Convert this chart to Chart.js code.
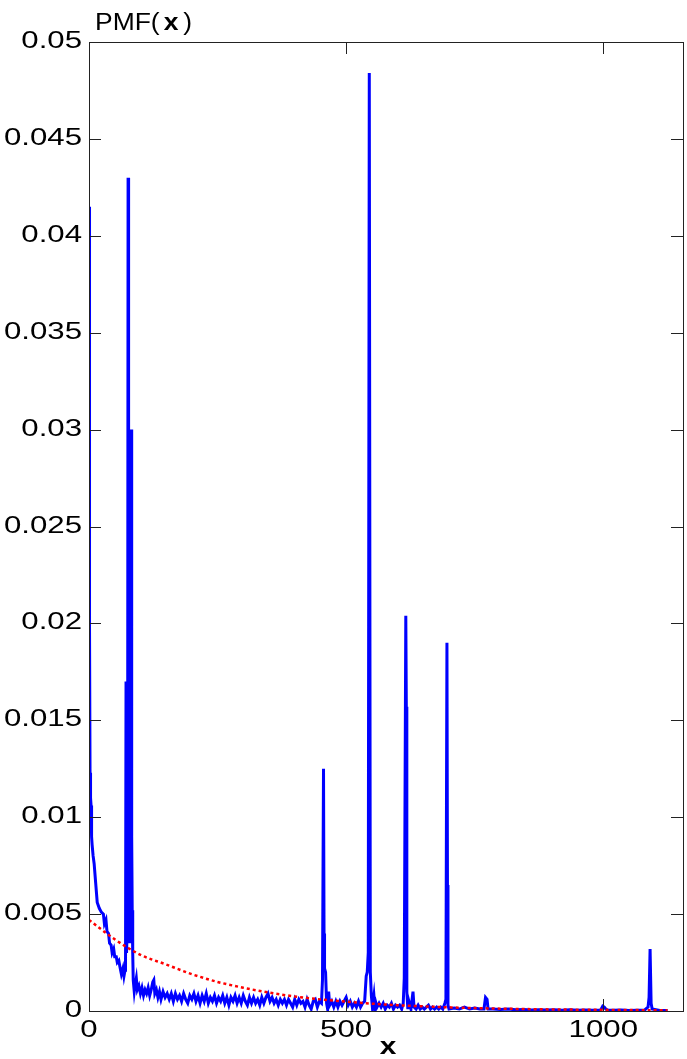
<!DOCTYPE html>
<html>
<head>
<meta charset="utf-8">
<script src="https://cdn.jsdelivr.net/npm/chart.js@4.4.1/dist/chart.umd.min.js"></script>
<style>
  body { margin: 0; background: #fff; }
  canvas { display: block; }
</style>
</head>
<body>
<canvas id="pmf-chart" width="687" height="1059"></canvas>
<script>
// tick labels
var xTickVals = [0, 500, 1000];
var yTickVals = [0, 0.005, 0.01, 0.015, 0.02, 0.025, 0.03, 0.035, 0.04, 0.045, 0.05];

var pmfX = [0, 1, 2, 3, 4, 5, 6, 8, 10, 13, 16, 20, 24, 28, 30, 33, 35, 38, 40, 43, 45, 48, 50, 53, 55, 58, 60, 63, 66, 68, 70,
  71, 72, 73, 74, 75, 76, 77, 78, 79, 80, 81, 82, 83, 84, 85, 86, 88, 90, 92, 94, 97, 100, 103, 106, 109, 112, 115, 118, 121, 124, 126, 128, 131, 134, 137,
  140, 144, 148, 152, 156, 160, 164, 168, 172, 176, 180, 184, 188, 192, 196, 200, 204, 208, 212, 216, 220, 224, 228, 232, 236, 240,
  244, 248, 252, 256, 260, 264, 268, 272, 276, 280, 284, 288, 292, 296, 300, 304, 308, 312, 316, 320, 324, 328, 332, 336, 340, 344,
  348, 352, 356, 360, 364, 368, 372, 376, 380, 384, 388, 392, 396, 400, 404, 408, 412, 416, 420, 424, 428, 432, 436, 440, 444, 448,
  452, 454, 456, 457, 458, 460, 462, 464, 466, 468, 472, 476, 480, 484, 488, 492, 496, 500, 504, 508, 512, 516, 520, 524, 528, 532, 536,
  539, 541, 543, 545, 547, 549, 551, 554, 556, 558, 560, 564, 568, 572, 576, 580, 584, 588, 592, 596, 600, 604, 608, 611, 613, 616, 617, 618,
  620, 622, 626, 630, 632, 636, 640, 644, 648, 652, 656, 660, 664, 668, 672, 676, 680, 684, 688, 692, 694, 696, 697, 698, 700,
  710, 720, 730, 740, 750, 760, 768, 771, 774, 776, 785, 800, 815, 830, 845, 860, 875, 890, 905, 920, 935, 950, 965, 980, 995,
  999, 1002, 1005, 1008, 1020, 1035, 1050, 1065, 1080, 1087, 1089, 1091, 1093, 1095, 1110, 1125];
var pmfY = [0.0415, 0.0198, 0.0123, 0.0110, 0.0106, 0.0090, 0.0086, 0.0080, 0.0076, 0.0066, 0.0056, 0.0053, 0.0051, 0.0050, 0.0045, 0.0047, 0.0041, 0.0040, 0.0035, 0.0034, 0.0030, 0.0032, 0.0028, 0.0028, 0.0025, 0.0026, 0.0023, 0.0019, 0.0022, 0.0018, 0.0021,
  0.0023, 0.0170, 0.0030, 0.0040, 0.0060, 0.0430, 0.0080, 0.0050, 0.0035, 0.0045, 0.0060, 0.0300, 0.0090, 0.0052, 0.0030, 0.0016, 0.0010, 0.0014, 0.0017, 0.0011, 0.0013, 0.0009, 0.0012, 0.0008, 0.0011, 0.0009, 0.0012, 0.0008, 0.0011, 0.0015, 0.0016, 0.0009, 0.0011, 0.0007, 0.0010,
  0.0006, 0.0010, 0.0007, 0.0009, 0.0006, 0.0009, 0.0005, 0.0009, 0.0006, 0.0008, 0.0005, 0.0009, 0.0006, 0.0004, 0.0008, 0.0006, 0.0009, 0.0005, 0.0008, 0.0004, 0.0008, 0.0005, 0.0009, 0.0004, 0.0007, 0.0005,
  0.0008, 0.0004, 0.0007, 0.0005, 0.0008, 0.0004, 0.0007, 0.0003, 0.0007, 0.0005, 0.0008, 0.0004, 0.0007, 0.0004, 0.0008, 0.0005, 0.0003, 0.0007, 0.0004, 0.0007, 0.0004, 0.0006, 0.0003, 0.0007, 0.0004, 0.0007,
  0.0009, 0.0005, 0.0007, 0.0004, 0.0006, 0.0003, 0.0006, 0.0004, 0.0006, 0.0003, 0.0006, 0.0004, 0.0002, 0.0006, 0.0003, 0.0006, 0.0004, 0.0005, 0.0002, 0.0006, 0.0003, 0.0001, 0.0005, 0.0006, 0.0002, 0.0005,
  0.0004, 0.0016, 0.0125, 0.0040, 0.0022, 0.0020, 0.0004, 0.0001, 0.0010, 0.0003, 0.0005, 0.0002, 0.0005, 0.0002, 0.0005, 0.0003, 0.0005, 0.0007, 0.0003, 0.0005, 0.0002, 0.0004, 0.0002, 0.0005, 0.0002, 0.0004, 0.0005,
  0.0018, 0.0020, 0.0030, 0.0484, 0.0020, 0.0008, 0.0002, 0.0008, 0.0001, 0.0004, 0.0002, 0.0004, 0.0002, 0.0004, 0.0001, 0.0003, 0.0002, 0.0004, 0.0001, 0.0003, 0.0002, 0.0003, 0.0001, 0.0004, 0.0017, 0.0204, 0.0157, 0.0010,
  0.0001, 0.0005, 0.0001, 0.0010, 0.0002, 0.0001, 0.0003, 0.0001, 0.0002, 0.0001, 0.0002, 0.0003, 0.0001, 0.0002, 0.0001, 0.0002, 0.0001, 0.0002, 0.0001, 0.0004, 0.0006, 0.0190, 0.0065, 0.0003, 0.0001,
  0.00015, 0.0001, 0.0002, 0.0001, 0.00015, 0.0001, 0.0001, 0.0007, 0.0006, 0.0001, 0.0001, 0.00008, 0.0001, 0.00006, 0.00008, 0.00005, 0.00007, 0.00005, 0.00006, 0.00004, 0.00006, 0.00004, 0.00005, 0.00004, 0.00005,
  0.00025, 0.0002, 0.0001, 0.00005, 0.00004, 0.00005, 0.00003, 0.00004, 0.00004, 0.0002, 0.0007, 0.0032, 0.0004, 0.0001, 0.00003, 0.00003];

// fitted curve (red dotted)
var fitX = [0, 50, 100, 150, 200, 250, 300, 350, 400, 450, 500, 550, 600, 650, 700, 750, 800, 850, 900, 950, 1000, 1050, 1100, 1125];
var fitY = [0.0047, 0.0037, 0.0029, 0.0024, 0.0019, 0.0015, 0.0012, 0.00095, 0.00075, 0.0006, 0.00048, 0.00038, 0.0003, 0.00024, 0.00019, 0.00015, 0.00012, 0.0001, 0.00008, 0.00007, 0.00006, 0.00005, 0.00004, 0.00004];

var FONT = '"Liberation Sans", Arial, sans-serif';
var STRETCH = 1.3; // the figure text is stretched sideways

function toPoints(xs, ys) {
  var pts = [];
  for (var i = 0; i < xs.length; i++) pts.push({x: xs[i], y: ys[i]});
  return pts;
}

function wideText(ctx, txt, x, y, align, k) {
  ctx.save();
  ctx.translate(x, y);
  ctx.scale(k || STRETCH, 1);
  ctx.textAlign = align;
  ctx.fillText(txt, 0, 0);
  ctx.restore();
}

// matlab-ish box with inward ticks on all four sides
var boxPlugin = {
  id: 'box',
  afterDatasetsDraw: function(chart) {
    var ctx = chart.ctx, a = chart.chartArea;
    var xs = chart.scales.x, ys = chart.scales.y;
    var tl = 12;
    ctx.save();
    ctx.strokeStyle = '#222';
    ctx.lineWidth = 1;
    ctx.beginPath();
    xTickVals.forEach(function(v) {
      var px = Math.round(xs.getPixelForValue(v)) + 0.5;
      ctx.moveTo(px, a.bottom); ctx.lineTo(px, a.bottom - tl);
      ctx.moveTo(px, a.top); ctx.lineTo(px, a.top + tl);
    });
    yTickVals.forEach(function(v) {
      var py = Math.round(ys.getPixelForValue(v)) + 0.5;
      ctx.moveTo(a.left, py); ctx.lineTo(a.left + tl, py);
      ctx.moveTo(a.right, py); ctx.lineTo(a.right - tl, py);
    });
    ctx.stroke();
    ctx.strokeRect(Math.round(a.left) + 0.5, Math.round(a.top) + 0.5,
      Math.round(a.right - a.left), Math.round(a.bottom - a.top));
    ctx.restore();
  }
};

// tick labels, title and axis label
var labelPlugin = {
  id: 'labels',
  afterDraw: function(chart) {
    var ctx = chart.ctx, a = chart.chartArea;
    var xs = chart.scales.x, ys = chart.scales.y;
    ctx.save();
    ctx.fillStyle = '#000';
    ctx.textBaseline = 'alphabetic';
    ctx.font = '24px ' + FONT;
    yTickVals.forEach(function(v) {
      var py = ys.getPixelForValue(v);
      wideText(ctx, String(parseFloat(v.toFixed(3))), 82, py + 6, 'right');
    });
    xTickVals.forEach(function(v) {
      var px = xs.getPixelForValue(v);
      wideText(ctx, String(v), px, 1037, 'center');
    });
    // PMF(x) title, x in bold
    var k = 1.15, x0 = 95, base = 30;
    ctx.font = '23px ' + FONT;
    wideText(ctx, 'PMF(', x0, base, 'left', k);
    x0 += ctx.measureText('PMF(').width * k + 4;
    ctx.font = 'bold 23px ' + FONT;
    wideText(ctx, 'x', x0, base, 'left', k);
    x0 += ctx.measureText('x').width * k + 5;
    ctx.font = '23px ' + FONT;
    wideText(ctx, ')', x0, base, 'left', k);
    // x axis label
    ctx.font = 'bold 23px ' + FONT;
    wideText(ctx, 'x', (a.left + a.right) / 2 + 2, 1054, 'center');
    ctx.restore();
  }
};

var ctx = document.getElementById('pmf-chart');
var chart = new Chart(ctx, {
  type: 'line',
  data: {
    datasets: [
      {
        label: 'fit',
        data: toPoints(fitX, fitY),
        borderColor: '#ff0000',
        borderWidth: 2.5,
        borderDash: [3, 3],
        pointRadius: 0,
        fill: false,
        cubicInterpolationMode: 'monotone'
      },
      {
        label: 'PMF',
        data: toPoints(pmfX, pmfY),
        borderColor: '#0000ff',
        borderWidth: 3,
        pointRadius: 0,
        fill: false,
        tension: 0
      }
    ]
  },
  options: {
    responsive: false,
    animation: false,
    layout: { padding: { top: 42, right: 4, left: 0, bottom: 0 } },
    plugins: { legend: { display: false }, tooltip: { enabled: false } },
    scales: {
      x: {
        type: 'linear',
        min: 0,
        max: 1155,
        afterBuildTicks: function(s) { s.ticks = xTickVals.map(function(v) { return {value: v}; }); },
        afterFit: function(s) { s.height = 48; },
        grid: { display: false, drawTicks: false },
        border: { display: false },
        ticks: { display: false }
      },
      y: {
        type: 'linear',
        min: 0,
        max: 0.05,
        afterBuildTicks: function(s) { s.ticks = yTickVals.map(function(v) { return {value: v}; }); },
        afterFit: function(s) { s.width = 89; },
        grid: { display: false, drawTicks: false },
        border: { display: false },
        ticks: { display: false }
      }
    }
  },
  plugins: [boxPlugin, labelPlugin]
});
</script>
</body>
</html>
